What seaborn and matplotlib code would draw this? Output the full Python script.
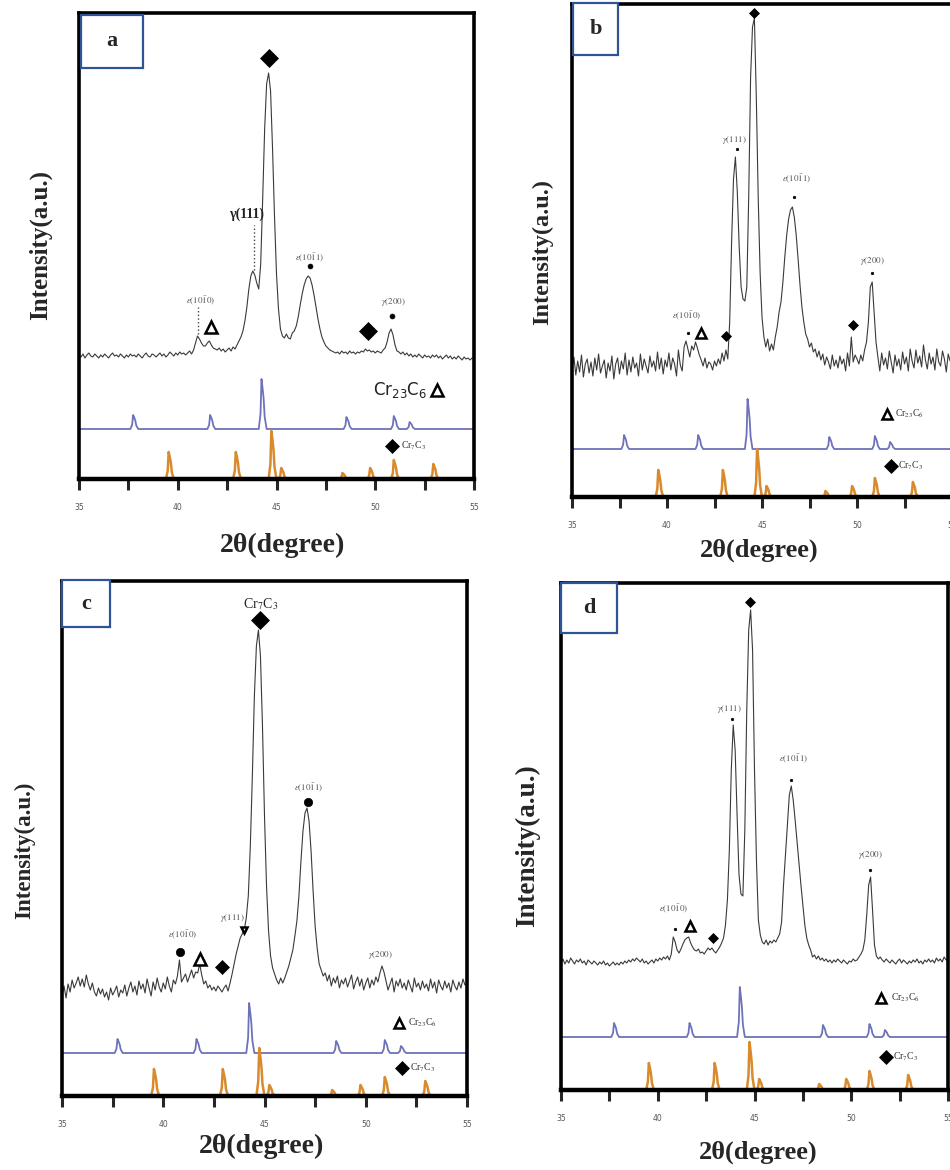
import numpy as np
import pandas as pd
import matplotlib
matplotlib.use("Agg")
import matplotlib.pyplot as plt
from matplotlib.patches import Rectangle
import seaborn as sns

# scan grid (degrees 2-theta), step 0.1
two_theta = np.round(np.arange(35.0, 55.05, 0.1), 1)

int_a = [124, 122, 125, 121, 124, 126, 123, 122, 125, 123,
         121, 124, 122, 125, 123, 121, 124, 126, 123, 124,
         122, 125, 123, 121, 124, 122, 125, 123, 124, 122,
         125, 123, 121, 124, 126, 123, 122, 125, 124, 122,
         124, 126, 123, 125, 122, 124, 127, 125, 123, 126,
         124, 127, 125, 126, 124, 126, 128, 125, 129, 136,
         143, 140, 136, 133, 133, 136, 138, 134, 131, 130,
         129, 131, 128, 130, 127, 129, 131, 128, 132, 130,
         134, 138, 142, 148, 158, 172, 190, 203, 208, 204,
         196, 190, 215, 280, 350, 395, 406, 388, 330, 262,
         205, 170, 150, 143, 141, 145, 141, 140, 146, 148,
         153, 162, 174, 185, 194, 200, 203, 201, 194, 184,
         172, 160, 150, 142, 137, 133, 131, 129, 128, 127,
         126, 127, 125, 128, 126, 127, 125, 128, 126, 127,
         125, 127, 126, 128, 127, 130, 128, 129, 127, 128,
         126, 128, 127, 126, 129, 131, 137, 146, 150, 144,
         134, 128, 127, 125, 127, 124, 126, 123, 125, 122,
         124, 122, 125, 123, 121, 124, 122, 123, 121, 124,
         122, 124, 121, 123, 120, 122, 124, 121, 123, 120,
         122, 120, 123, 121, 119, 122, 120, 121, 119, 121,
         120]

int_b = [128, 140, 122, 136, 125, 142, 120, 133, 138, 124,
         135, 121, 139, 127, 143, 124, 131, 137, 119, 134,
         126, 141, 118, 133, 139, 123, 136, 128, 144, 122,
         137, 125, 140, 129, 134, 121, 143, 127, 138, 131,
         124, 141, 130, 136, 126, 145, 128, 139, 123, 137,
         130, 144, 127, 139, 133, 121, 147, 132, 126, 150,
         156, 148, 140, 151, 147, 155, 149, 142, 137, 131,
         139, 129, 135, 133, 127, 136, 131, 138, 133, 144,
         136, 147, 138, 175, 255, 318, 340, 305, 250, 210,
         198, 196, 210, 300, 420, 470, 479, 400, 300, 225,
         180, 160, 150, 158, 146, 153, 147, 160, 170, 185,
         195, 215, 240, 262, 278, 287, 290, 280, 262, 238,
         212, 190, 175, 163, 158, 150, 154, 145, 148, 140,
         146, 137, 143, 132, 140, 135, 128, 142, 131, 137,
         129, 141, 133, 138, 126, 144, 131, 160, 135, 142,
         138, 133, 142, 136, 147, 155, 175, 210, 215, 185,
         155, 140, 126, 144, 132, 139, 128, 146, 135, 124,
         142, 131, 138, 127, 145, 133, 140, 126, 148, 136,
         129, 147, 134, 141, 130, 152, 137, 128, 144, 133,
         140, 127, 148, 135, 131, 146, 138, 125, 143, 136,
         140]

int_c = [100, 110, 98, 112, 104, 116, 108, 113, 119, 110,
         117, 109, 121, 112, 106, 113, 104, 100, 108, 102,
         107, 99, 104, 96, 108, 101, 105, 110, 99, 106,
         103, 111, 100, 108, 114, 104, 110, 101, 115, 107,
         112, 103, 117, 108, 100, 114, 106, 118, 109, 104,
         113, 107, 119, 110, 104, 116, 112, 120, 136, 114,
         118, 122, 114, 120, 126, 118, 124, 123, 132, 121,
         112, 115, 108, 111, 106, 109, 105, 110, 107, 104,
         108, 111, 105, 113, 122, 132, 142, 150, 158, 162,
         166, 178, 200, 250, 320, 400, 450, 466, 440, 370,
         280, 210, 165, 140, 128, 122, 116, 112, 118, 113,
         118, 124, 130, 138, 146, 160, 175, 200, 235, 265,
         283, 288, 275, 245, 205, 170, 148, 132, 126, 120,
         123, 115, 121, 110, 118, 113, 120, 108, 116, 112,
         118, 109, 115, 121, 107, 114, 119, 110, 117, 106,
         113, 118, 108, 116, 111, 119, 114, 123, 130, 124,
         115, 106, 112, 118, 104, 115, 110, 117, 108, 113,
         106, 116, 110, 104, 118, 109, 113, 106, 115, 108,
         112, 105, 117, 108, 114, 103, 116, 110, 106, 115,
         108, 113, 104, 116, 110, 106, 114, 108, 117, 111,
         112]

int_d = [128, 131, 126, 130, 127, 132, 129, 126, 130, 128,
         131, 127, 129, 125, 130, 128, 126, 129, 127, 125,
         128, 126, 129, 125, 127, 124, 126, 128, 125, 127,
         125, 128, 126, 129, 127, 130, 128, 131, 129, 132,
         130, 128, 131, 127, 129, 126, 128, 130, 127, 131,
         129, 132, 130, 133, 131, 134, 130, 136, 153, 148,
         140, 137, 141, 146, 150, 152, 153, 147, 143, 140,
         139, 141, 137, 138, 136, 139, 142, 140, 142, 139,
         137, 140, 143, 147, 152, 165, 190, 240, 320, 365,
         340, 275, 215, 196, 194, 260, 380, 460, 480, 440,
         320, 230, 170, 155, 148, 146, 150, 145, 149, 147,
         150, 148, 152, 156, 168, 205, 235, 265, 295, 304,
         290, 270, 248, 225, 205, 185, 165, 152, 145, 140,
         133, 135, 131, 134, 130, 132, 129, 131, 128, 130,
         127, 130, 128, 131, 129, 127, 130, 128, 126, 129,
         128, 131, 129, 130, 133, 136, 140, 150, 175, 205,
         213, 180, 145, 134, 131, 133, 130, 128, 131, 129,
         127, 130, 128, 126, 129, 131, 127, 130, 128, 126,
         129, 127, 130, 128, 131, 127, 129, 126, 130, 128,
         131, 128, 130, 127, 132, 129, 131, 128, 133, 130,
         131]

# reference patterns (peak position, relative height)
cr23c6_pos = [37.8, 41.7, 44.3, 48.6, 51.0, 51.8]
cr23c6_int = [14, 14, 50, 12, 13, 7]
cr7c3_pos = [39.6, 43.0, 44.8, 45.3, 48.4, 49.8, 51.0, 53.0]
cr7c3_int = [27, 27, 48, 11, 6, 11, 19, 15]

panel_letters = ["a", "b", "c", "d"]
measured = [int_a, int_b, int_c, int_d]

sns.set_style("white")
plt.rcParams["font.family"] = ["Liberation Serif", "DejaVu Serif"]
plt.rcParams["mathtext.fontset"] = "stix"

W, H = 950, 1170
GRAY = "#555555"
BLUE = "#6e72b8"
ORANGE = "#d98a2c"

# layout of each panel in pixels: left, right, top, bottom
panels = {
    "a": dict(box=(79, 474, 13, 479), blue_base=50, letter_box=(81, 143, 15, 68),
              ylab=(40, 245, 18), xlab=(283, 545, 20)),
    "b": dict(box=(572, 952, 4, 497), blue_base=48, letter_box=(573, 618, 3, 55),
              ylab=(543, 252, 17.5), xlab=(759, 550, 19)),
    "c": dict(box=(62, 467, 581, 1096), blue_base=43, letter_box=(62, 110, 580, 627),
              ylab=(25, 850, 16.5), xlab=(262, 1146, 20)),
    "d": dict(box=(561, 948, 583, 1090), blue_base=53, letter_box=(561, 617, 583, 633),
              ylab=(528, 846, 19.5), xlab=(758, 1152, 19)),
}

EPS0 = r"$\varepsilon(10\bar{1}0)$"
EPS1 = r"$\varepsilon(10\bar{1}1)$"
CR23 = r"Cr$_{23}$C$_6$"
CR7 = r"Cr$_7$C$_3$"

# annotations: (kind, x, y, extra)
notes = {
    "a": [("D", 44.6, 421, 9), ("bold", 43.48, 265, "γ(111)"),
          ("vdot", 43.84, (209, 254), None),
          ("txt", 46.67, 221, EPS1), ("o", 46.7, 213, 3.5),
          ("txt", 41.16, 178, EPS0), ("vdot", 41.05, (145, 172), None),
          ("^", 41.7, 152, 9), ("D", 49.65, 148, 9),
          ("txt", 50.9, 177, r"$\gamma(200)$"), ("o", 50.85, 163, 3.5),
          ("big", 51.25, 89, CR23), ("^", 53.15, 89, 9),
          ("D", 50.87, 33, 7), ("leg", 51.3, 33, CR7)],
    "b": [("D", 44.58, 484, 5), ("txt", 43.53, 357, r"$\gamma(111)$"), ("o", 43.68, 348, 1.8),
          ("txt", 46.84, 318, EPS1), ("o", 46.68, 300, 1.8),
          ("txt", 50.79, 236, r"$\gamma(200)$"), ("o", 50.79, 224, 1.8),
          ("txt", 41.05, 181, EPS0), ("o", 41.1, 164, 1.8),
          ("^", 41.79, 164, 7), ("D", 43.1, 161, 5), ("D", 49.8, 172, 5),
          ("^", 51.58, 83, 7), ("leg", 52.0, 83, CR23),
          ("D", 51.79, 31, 7), ("leg", 52.15, 31, CR7)],
    "c": [("mid", 44.8, 492, CR7), ("D", 44.8, 476, 9),
          ("txt", 47.18, 308, EPS1), ("o", 47.13, 294, 6),
          ("txt", 43.4, 178, r"$\gamma(111)$"), ("v", 44.0, 166, 5),
          ("txt", 40.98, 161, EPS0), ("o", 40.84, 144, 6),
          ("^", 41.8, 137, 8), ("D", 42.9, 129, 7),
          ("txt", 50.74, 141, r"$\gamma(200)$"),
          ("^", 51.64, 73, 7), ("leg", 52.1, 73, CR23),
          ("D", 51.8, 28, 7), ("leg", 52.2, 28, CR7)],
    "d": [("D", 44.77, 488, 5), ("txt", 43.68, 381, r"$\gamma(111)$"), ("o", 43.84, 371, 1.8),
          ("txt", 47.05, 331, EPS1), ("o", 46.9, 310, 1.8),
          ("txt", 50.97, 235, r"$\gamma(200)$"), ("o", 50.97, 220, 1.8),
          ("txt", 40.84, 181, EPS0), ("o", 40.9, 161, 1.8),
          ("^", 41.67, 164, 7), ("D", 42.86, 152, 5),
          ("^", 51.54, 92, 7), ("leg", 52.05, 92, CR23),
          ("D", 51.8, 33, 7), ("leg", 52.15, 33, CR7)],
}

PEAK_DX = [-0.2, -0.11, -0.06, 0.0, 0.05, 0.1, 0.2]
PEAK_FR = [0.0, 0.3, 1.0, 0.8, 0.6, 0.25, 0.0]


def ref_profile(pos, heights, base):
    xs, ys = [35.0], [base]
    for p, h in zip(pos, heights):
        for dx, fr in zip(PEAK_DX, PEAK_FR):
            xs.append(p + dx)
            ys.append(base + fr * h)
    xs.append(55.0)
    ys.append(base)
    return pd.DataFrame({"two_theta": xs, "intensity": ys})


def draw_note(ax, kind, x, y, extra):
    if kind in ("D", "^", "v", "o"):
        face = "white" if kind in ("^", "v") else "black"
        ax.plot(x, y, marker=kind, ms=extra, mfc=face, mec="black",
                mew=1.8 if kind in ("^", "v") else 0.5, ls="none", clip_on=False)
    elif kind == "vdot":
        ax.plot([x, x], y, ls=":", color="#444444", lw=1.0)
    elif kind == "txt":
        ax.text(x, y, extra, fontsize=6.5, color=GRAY, ha="center", va="center")
    elif kind == "bold":
        ax.text(x, y, extra, fontsize=10, fontweight="bold", color="#222222",
                ha="center", va="center")
    elif kind == "big":
        ax.text(x, y, extra, fontsize=12, color="#222222", ha="center", va="center",
                family="DejaVu Sans", math_fontfamily="dejavusans")
    elif kind == "mid":
        ax.text(x, y, extra, fontsize=10, color="#222222", ha="center", va="center")
    elif kind == "leg":
        ax.text(x, y, extra, fontsize=7, color="#333333", ha="left", va="center")


fig = plt.figure(figsize=(W / 100, H / 100), dpi=100)

for letter, curve in zip(panel_letters, measured):
    cfg = panels[letter]
    left, right, top, bottom = cfg["box"]
    ax = fig.add_axes([left / W, 1 - bottom / H, (right - left) / W, (bottom - top) / H])

    meas = pd.DataFrame({"two_theta": two_theta, "intensity": curve})
    sns.lineplot(data=meas, x="two_theta", y="intensity", ax=ax,
                 color="#3a3a3a", lw=0.8, estimator=None)
    blue = ref_profile(cr23c6_pos, cr23c6_int, cfg["blue_base"])
    sns.lineplot(data=blue, x="two_theta", y="intensity", ax=ax, sort=False,
                 color=BLUE, lw=1.3, estimator=None)
    orange = ref_profile(cr7c3_pos, cr7c3_int, 0)
    sns.lineplot(data=orange, x="two_theta", y="intensity", ax=ax, sort=False,
                 color=ORANGE, lw=1.8, estimator=None)

    for kind, x, y, extra in notes[letter]:
        draw_note(ax, kind, x, y, extra)

    ax.set_xlim(35, 55)
    ax.set_ylim(0, bottom - top)
    ax.set_xticks([35, 40, 45, 50, 55])
    ax.set_xticklabels(["35", "40", "45", "50", "55"], family="DejaVu Sans")
    ax.set_xticks([37.5, 42.5, 47.5, 52.5], minor=True)
    ax.set_yticks([])
    ax.tick_params(axis="x", which="both", direction="out", length=8, width=2.2,
                   labelsize=5.5, labelcolor=GRAY, pad=9, bottom=True)
    ax.set_xlabel("")
    ax.set_ylabel("")
    for side, spine in ax.spines.items():
        spine.set_visible(True)
        spine.set_color("black")
        spine.set_linewidth(3.2 if side == "bottom" else 2.6)

    # letter box
    bl, br, bt, bb = cfg["letter_box"]
    fig.add_artist(Rectangle((bl / W, 1 - bb / H), (br - bl) / W, (bb - bt) / H,
                             transform=fig.transFigure, facecolor="white",
                             edgecolor="#2f5496", lw=1.6, zorder=5))
    fig.text((bl + br) / 2 / W, 1 - (bt + bb) / 2 / H, letter, fontsize=16,
             fontweight="bold", ha="center", va="center", zorder=6)

    yx, yy, yfs = cfg["ylab"]
    fig.text(yx / W, 1 - yy / H, "Intensity(a.u.)", rotation=90, fontsize=yfs,
             fontweight="bold", ha="center", va="center")
    xx, xy, xfs = cfg["xlab"]
    fig.text(xx / W, 1 - xy / H, "2θ(degree)", fontsize=xfs,
             fontweight="bold", ha="center", va="center")

fig.savefig("out.png", dpi=100)
